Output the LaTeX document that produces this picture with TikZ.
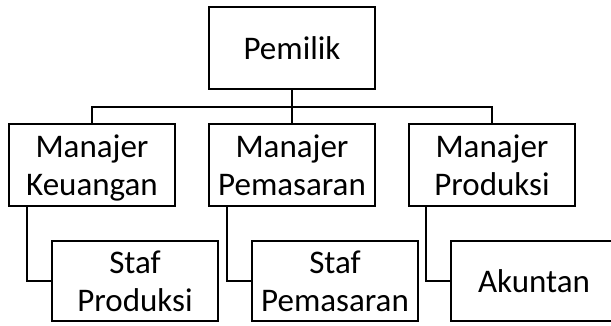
\documentclass[tikz,border=0pt]{standalone}
\usepackage{fontspec}
\setmainfont{Carlito}
\usetikzlibrary{positioning}

\begin{document}
\begin{tikzpicture}[node distance=35pt and 34pt,
        box/.style={draw, line width=2pt, minimum width=166pt, minimum height=82pt, align=center, outer sep=0pt, text depth=0pt, font=\fontsize{33}{38}\selectfont},
        link/.style={line width=2pt}]
        \useasboundingbox (0,0) rectangle (611pt,-325pt);
        \clip (0,0) rectangle (611pt,-325pt);

        \node (P) [box] at (292pt,-48pt) {Pemilik};
        \node (MP) [box, below=of P] {Manajer\\Pemasaran};
        \node (MK) [box, left=of MP] {Manajer\\Keuangan};
        \node (MR) [box, right=of MP] {Manajer\\Produksi};

        \node (SP) [box, minimum height=80pt, below right=35pt and 43pt of MK.south west] {Staf\\Produksi};
        \node (SM) [box, minimum height=80pt, below right=35pt and 43pt of MP.south west] {Staf\\Pemasaran};
        \node (AK) [box, minimum height=80pt, below right=35pt and 42pt of MR.south west] {Akuntan};

        \draw[link] (P.south) -- ++(0,-17.5pt) -| (MK.north);
        \draw[link] (P.south) -- (MP.north);
        \draw[link] (P.south) -- ++(0,-17.5pt) -| (MR.north);

        \draw[link] ([xshift=18pt]MK.south west) |- (SP.west);
        \draw[link] ([xshift=18pt]MP.south west) |- (SM.west);
        \draw[link] ([xshift=17pt]MR.south west) |- (AK.west);
    \end{tikzpicture}
\end{document}
